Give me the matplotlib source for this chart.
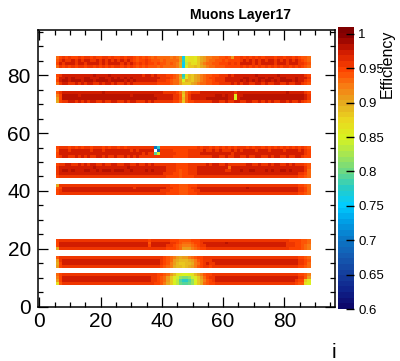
import numpy as np
import matplotlib
matplotlib.use("Agg")
import matplotlib.pyplot as plt
from matplotlib.colors import LinearSegmentedColormap
from matplotlib.ticker import MultipleLocator, FormatStrFormatter

plt.rcParams["font.family"] = ["Liberation Sans", "DejaVu Sans"]

# one character per cell: levels[k] -> 0.68 + 0.01*k, '.' = empty cell
levels = "vutsrqponmlkjihgfedcba0123456789"
eff_base = 0.68
eff_step = 0.01

# columns i = 6..88 (83 bins), rows j listed from top to bottom in each band
i_first, i_last = 6, 88

band_top_j = [86, 80, 74, 55, 49, 42, 23, 17, 11]

band_86 = [
    "3565655656" "6565566565" "5656654545" "4343333232" "1neccdb012" "2334454155" "6565656566" "6566566565" "443",
    "4676676767" "7667676767" "6767654556" "5444343333" "1lfccdb012" "3344545555" "6767676767" "7676767676" "543",
    "5767776776" "7777676777" "7676765656" "5545443432" "0ngbccb123" "3445556565" "7777676777" "7677767776" "654",
    "3656565665" "6656565656" "6565654545" "4443433332" "0odbbab012" "3344455555" "6565656565" "6565665656" "543",
]
band_80 = [
    "5677777777" "7787777877" "7777777767" "7676665543" "1lcab01234" "4556667677" "7777787777" "7787777777" "765",
    "4778787778" "8777887787" "8787877777" "7777666543" "0kdab01234" "5566677777" "7887778878" "8778877787" "776",
    "5788788878" "8878888788" "8878787777" "7776665433" "1e0ab01234" "4566677777" "8787878788" "7878888787" "765",
    "3677667676" "7766767767" "6676766666" "6665555433" "1bbb012334" "4556666767" "6776677676" "6776676677" "654",
]
band_74 = [
    "4677777777" "7777787777" "7777777777" "7777766665" "3a35666777" "7777777767" "7777777777" "7777787777" "765",
    "2588888788" "8888888888" "8888788888" "8877777766" "4b36777777" "77887877d7" "7888888888" "8888888888" "876",
    "1588888888" "8888888888" "8888888888" "8887777766" "4a36777778" "88888877e7" "8888888888" "8888888888" "876",
    "0566776767" "6776676677" "6676776667" "6766666655" "3b35566666" "6776676677" "6677667676" "7667767667" "654",
]
band_55 = [
    "5666565656" "6566656566" "5656666666" "66tl555555" "5555556566" "5656565656" "6656566565" "6565656565" "654",
    "4777677777" "7677767777" "7777676777" "77.v666655" "5556666676" "6767666767" "6777767776" "7777677776" "765",
    "5777777777" "7777777777" "7777777767" "66kd666665" "5556666777" "7777777677" "7777777777" "7777777777" "765",
    "5677667676" "7667767667" "6676767666" "6666666655" "5556666666" "6776676677" "6676677667" "6776676677" "655",
]
band_49 = [
    "5667766767" "6776676677" "6677667667" "6766666665" "5556666667" "6776676666" "6677667667" "6776676766" "654",
    "6777777777" "7787777777" "7778777777" "7777776665" "5556667777" "7777773777" "7777777777" "7777777777" "764",
    "6788787778" "8778788878" "8877877778" "7877776665" "4556667777" "7777766777" "8778877787" "8778878777" "763",
    "6777777777" "7777777777" "7777777777" "7777766655" "4556667777" "7777777777" "7777777777" "7777777776" "653",
    "5666666666" "6666666666" "6666666666" "6666665555" "4555566666" "6666666666" "6666666666" "6666666665" "543",
]
band_42 = [
    "0666666666" "6666666666" "6666666666" "6666666555" "4445556666" "6666666666" "6666666666" "6666666665" "543",
    "4577777777" "7777777777" "7777767777" "7777776655" "4445667777" "7777777777" "7787777777" "7777777776" "653",
    "5677777777" "7777777777" "7777777777" "7777666555" "4445566777" "7777777777" "7777777777" "7777777776" "653",
    "5666666666" "6666666666" "6666666666" "6666665555" "4445556666" "6666666666" "6666666666" "6666666665" "543",
]
band_23 = [
    "5666666666" "6666666666" "6666666666" "5666666555" "4444555666" "6666666666" "6666666666" "6666665555" "443",
    "5777777777" "7777777777" "7777777777" "4777777665" "4333455677" "7777787777" "7777777777" "7777766655" "443",
    "5777777777" "7777777777" "7777777777" "5777776654" "3222345667" "7777777777" "7777777777" "7777766655" "432",
    "0666666666" "6666666666" "6666666666" "6666665554" "3111234556" "6666666666" "6666666666" "6666665555" "432",
]
band_17 = [
    "4666666666" "6666666666" "6666666666" "6666654321" "0112345566" "6666666666" "6666666666" "6666666665" "543",
    "1677777777" "7777777777" "7777777777" "7777654310" "aaa0124566" "6777777777" "7777777777" "7777777776" "654",
    "0577777777" "7777777777" "7777777777" "777765421a" "bbaa023567" "6677777777" "7777777777" "7777777776" "653",
    "1566666666" "6666666666" "6666666666" "666654320a" "aba0124566" "5666666666" "6666666666" "6666666665" "543",
]
band_11 = [
    "3566666666" "6666666666" "6666666666" "66655431ac" "deedca1245" "5666666666" "6666666666" "6666666665" "542",
    "2577777777" "7777777777" "7777777777" "7665431bdf" "hiihfdb135" "6677777777" "7777777777" "7777777776" "641",
    "1577777777" "7777777777" "7777777777" "7665431beg" "kllkheb024" "5677777777" "7777777777" "7777777765" "5bd",
    "c466666666" "6666666666" "6666666666" "6655420beg" "jkkjheb034" "5566666666" "6666666666" "6666666654" "4ce",
]
bands = [band_86, band_80, band_74, band_55, band_49, band_42, band_23, band_17, band_11]

cbar_ticks = [0.6, 0.65, 0.7, 0.75, 0.8, 0.85, 0.9, 0.95, 1.0]
z_min, z_max = 0.6, 1.01

# palette anchors (efficiency, colour)
palette = [
    (0.600, (0.05, 0.03, 0.42)),
    (0.625, (0.06, 0.14, 0.55)),
    (0.650, (0.08, 0.25, 0.62)),
    (0.675, (0.08, 0.36, 0.70)),
    (0.700, (0.04, 0.47, 0.78)),
    (0.725, (0.00, 0.62, 0.90)),
    (0.750, (0.00, 0.80, 1.00)),
    (0.775, (0.15, 0.80, 0.78)),
    (0.800, (0.42, 0.85, 0.52)),
    (0.825, (0.65, 0.90, 0.32)),
    (0.850, (0.85, 0.95, 0.12)),
    (0.875, (0.92, 0.85, 0.12)),
    (0.900, (0.90, 0.68, 0.12)),
    (0.925, (0.97, 0.50, 0.08)),
    (0.950, (1.00, 0.27, 0.00)),
    (0.975, (0.84, 0.12, 0.00)),
    (1.000, (0.55, 0.00, 0.00)),
    (1.010, (0.50, 0.00, 0.00)),
]
cmap = LinearSegmentedColormap.from_list(
    "eff", [((v - z_min) / (z_max - z_min), c) for v, c in palette], N=50)

# fill the (j, i) grid from the bands
n_cols = i_last - i_first + 1
j_low, j_high = 8, 86
grid = np.full((j_high - j_low + 1, n_cols), np.nan)
for top, rows in zip(band_top_j, bands):
    for k, row in enumerate(rows):
        if len(row) != n_cols:
            raise ValueError(f"row j={top - k} has {len(row)} cells")
        vals = [np.nan if ch == "." else eff_base + eff_step * levels.index(ch) for ch in row]
        grid[top - k - j_low] = vals

x_edges = np.arange(i_first - 0.5, i_last + 1.5)
y_edges = np.arange(j_low - 0.5, j_high + 1.5)

fig = plt.figure(figsize=(4.0, 3.61), dpi=100)
ax = fig.add_axes([0.0943, 0.1504, 0.7433, 0.7657])
mesh = ax.pcolormesh(x_edges, y_edges, np.ma.masked_invalid(grid),
                     cmap=cmap, vmin=z_min, vmax=z_max)

ax.set_xlim(-0.5, 96.5)
ax.set_ylim(0, 95.5)
ax.xaxis.set_major_locator(MultipleLocator(20))
ax.xaxis.set_minor_locator(MultipleLocator(5))
ax.yaxis.set_major_locator(MultipleLocator(20))
ax.yaxis.set_minor_locator(MultipleLocator(5))
ax.tick_params(which="both", direction="in", top=True, right=True,
               width=0.9, labelsize=15)
ax.tick_params(which="major", length=7)
ax.tick_params(which="minor", length=3.5)
ax.tick_params(axis="x", pad=4)
ax.tick_params(axis="y", pad=5)
for sp in ax.spines.values():
    sp.set_linewidth(1.1)

# z-axis palette
cax = fig.add_axes([0.845, 0.144, 0.04, 0.781])
cbar = fig.colorbar(mesh, cax=cax)
cbar.outline.set_visible(False)
cbar.set_ticks(cbar_ticks)
cbar.ax.yaxis.set_major_formatter(FormatStrFormatter("%g"))
cbar.ax.tick_params(direction="in", length=5.5, width=1.0, color="black",
                    labelsize=9.5, pad=3)
cbar.ax.minorticks_off()

fig.text(241 / 400, 1 - 19 / 361, "Muons Layer17", ha="center",
         va="baseline", fontsize=10, fontweight="bold")
fig.text(387 / 400, 1 - 64 / 361, "Efficiency", rotation=90,
         ha="center", va="center", fontsize=11.5)
fig.text(334 / 400, 1 - 358 / 361, "i", ha="center", va="baseline",
         fontsize=15)

fig.savefig("out.png", dpi=100)
